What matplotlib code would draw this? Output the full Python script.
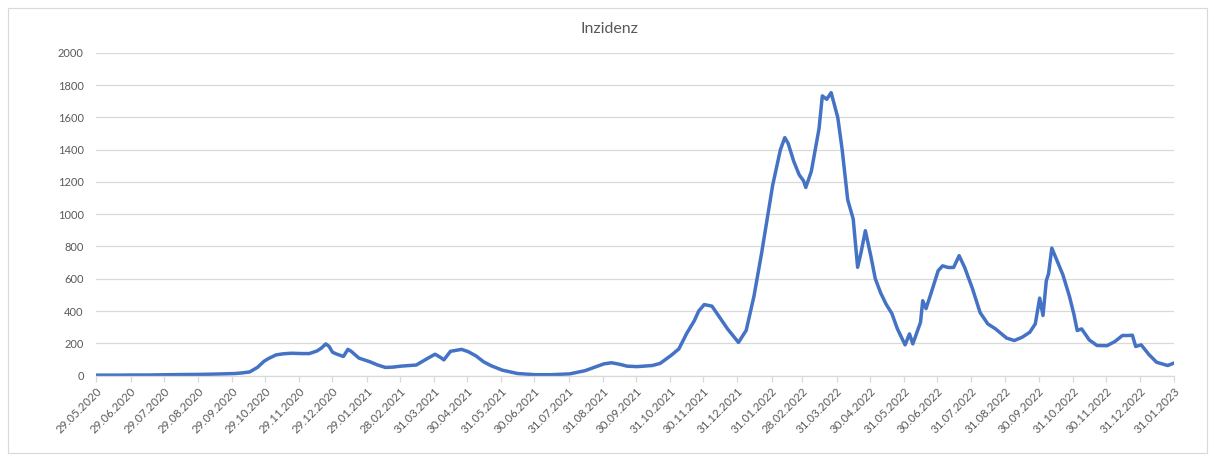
"""Inzidenz line chart, Excel look."""

import matplotlib
matplotlib.use("Agg")
from matplotlib import pyplot as plt
from matplotlib.patches import Rectangle
import pandas as pd


TITLE = "Inzidenz"

# Readings (date, value).
DATES = [
    "29.05.2020", "01.06.2020", "15.06.2020", "01.07.2020", "15.07.2020",
    "01.08.2020", "15.08.2020", "01.09.2020", "15.09.2020", "01.10.2020",
    "08.10.2020", "15.10.2020", "22.10.2020", "28.10.2020", "01.11.2020",
    "08.11.2020", "15.11.2020", "22.11.2020", "01.12.2020", "08.12.2020",
    "15.12.2020", "19.12.2020", "23.12.2020", "26.12.2020", "29.12.2020",
    "01.01.2021", "08.01.2021", "12.01.2021", "15.01.2021", "22.01.2021",
    "01.02.2021", "08.02.2021", "15.02.2021", "22.02.2021", "01.03.2021",
    "15.03.2021", "25.03.2021", "01.04.2021", "06.04.2021", "09.04.2021",
    "15.04.2021", "25.04.2021", "01.05.2021", "08.05.2021", "15.05.2021",
    "22.05.2021", "01.06.2021", "15.06.2021", "01.07.2021", "15.07.2021",
    "01.08.2021", "15.08.2021", "01.09.2021", "08.09.2021", "15.09.2021",
    "22.09.2021", "01.10.2021", "15.10.2021", "22.10.2021", "01.11.2021",
    "08.11.2021", "15.11.2021", "22.11.2021", "26.11.2021", "01.12.2021",
    "08.12.2021", "15.12.2021", "22.12.2021", "01.01.2022", "08.01.2022",
    "15.01.2022", "22.01.2022", "01.02.2022", "08.02.2022", "12.02.2022",
    "15.02.2022", "20.02.2022", "25.02.2022", "01.03.2022", "03.03.2022",
    "08.03.2022", "15.03.2022", "18.03.2022", "22.03.2022", "26.03.2022",
    "01.04.2022", "05.04.2022", "10.04.2022", "15.04.2022", "19.04.2022",
    "22.04.2022", "26.04.2022", "01.05.2022", "05.05.2022", "10.05.2022",
    "15.05.2022", "20.05.2022", "25.05.2022", "01.06.2022", "05.06.2022",
    "08.06.2022", "15.06.2022", "17.06.2022", "20.06.2022", "25.06.2022",
    "01.07.2022", "05.07.2022", "10.07.2022", "15.07.2022", "20.07.2022",
    "25.07.2022", "01.08.2022", "08.08.2022", "15.08.2022", "22.08.2022",
    "01.09.2022", "08.09.2022", "15.09.2022", "22.09.2022", "27.09.2022",
    "29.09.2022", "01.10.2022", "04.10.2022", "07.10.2022", "09.10.2022",
    "12.10.2022", "15.10.2022", "22.10.2022", "28.10.2022", "01.11.2022",
    "04.11.2022", "08.11.2022", "15.11.2022", "22.11.2022", "01.12.2022",
    "08.12.2022", "15.12.2022", "20.12.2022", "24.12.2022", "27.12.2022",
    "01.01.2023", "08.01.2023", "15.01.2023", "25.01.2023", "31.01.2023",
]
VALUES = [
    2, 2, 2, 3, 3,
    5, 6, 7, 9, 12,
    16, 22, 50, 88, 105,
    128, 135, 138, 136, 136,
    152, 170, 196, 180, 145,
    135, 118, 162, 150, 108,
    85, 65, 50, 52, 58,
    65, 105, 132, 112, 97,
    150, 162, 148, 122, 85,
    60, 33, 12, 5, 5,
    10, 30, 72, 79, 70,
    58, 55, 62, 75, 125,
    165, 260, 340, 400, 440,
    430, 360, 290, 205, 280,
    490, 760, 1180, 1400, 1475,
    1440, 1330, 1245, 1207, 1166,
    1265, 1530, 1734, 1713, 1754,
    1600, 1400, 1090, 970, 671,
    760, 898, 740, 600, 510,
    440, 385, 290, 190, 258,
    196, 330, 464, 415, 520,
    650, 680, 670, 670, 743,
    670, 540, 390, 320, 289,
    232, 217, 237, 268, 320,
    400, 480, 372, 588, 630,
    790, 740, 625, 490, 380,
    279, 289, 220, 186, 185,
    210, 248, 248, 250, 180,
    190, 130, 82, 62, 78,
]

TICK_DATES = [
    "29.05.2020", "29.06.2020", "29.07.2020", "29.08.2020", "29.09.2020",
    "29.10.2020", "29.11.2020", "29.12.2020", "29.01.2021", "28.02.2021",
    "31.03.2021", "30.04.2021", "31.05.2021", "30.06.2021", "31.07.2021",
    "31.08.2021", "30.09.2021", "31.10.2021", "30.11.2021", "31.12.2021",
    "31.01.2022", "28.02.2022", "31.03.2022", "30.04.2022", "31.05.2022",
    "30.06.2022", "31.07.2022", "31.08.2022", "30.09.2022", "31.10.2022",
    "30.11.2022", "31.12.2022", "31.01.2023",
]
Y_TICKS = [0, 200, 400, 600, 800, 1000, 1200, 1400, 1600, 1800, 2000]

LINE_COLOR = "#4472C4"
TEXT_COLOR = "#595959"
GRID_COLOR = "#D9D9D9"


def _main():
    plt.rcParams["font.family"] = ["Lato", "DejaVu Sans"]

    x = pd.to_datetime(DATES, format="%d.%m.%Y")
    ticks = pd.to_datetime(TICK_DATES, format="%d.%m.%Y")

    fig = plt.figure(figsize=(12.1, 4.55), dpi=100)
    # chart area border
    fig.patches.append(Rectangle((8 / 1210, 2 / 455), 1199 / 1210, 445 / 455,
                                 transform=fig.transFigure, fill=False,
                                 edgecolor=GRID_COLOR, linewidth=0.8))
    ax = fig.add_axes([96.3 / 1210, 1 - 375.5 / 455, 1078 / 1210, 322.5 / 455])

    ax.plot(x, VALUES, color=LINE_COLOR, linewidth=2.5, solid_joinstyle="round")

    ax.set_xlim(ticks[0], ticks[-1])
    ax.set_ylim(0, 2000)
    ax.set_yticks(Y_TICKS)
    ax.set_yticklabels([str(v) for v in Y_TICKS])
    ax.set_xticks(ticks)
    ax.set_xticklabels(TICK_DATES, rotation=45, ha="right",
                       rotation_mode="anchor")

    ax.grid(axis="y", color=GRID_COLOR, linewidth=0.9)
    ax.set_axisbelow(True)
    for side in ("top", "right", "left"):
        ax.spines[side].set_visible(False)
    ax.spines["bottom"].set_color(GRID_COLOR)
    ax.spines["bottom"].set_linewidth(0.9)

    ax.tick_params(axis="y", length=0, pad=9, labelsize=8,
                   labelcolor=TEXT_COLOR)
    ax.tick_params(axis="x", length=4, width=0.9, color=GRID_COLOR, pad=3,
                   labelsize=8.3, labelcolor=TEXT_COLOR)

    fig.text(0.5040, 1 - 29 / 455, TITLE, ha="center", va="center",
             fontsize=11.5, color=TEXT_COLOR)

    fig.savefig("out.png", dpi=100)


if __name__ == "__main__":
    _main()
